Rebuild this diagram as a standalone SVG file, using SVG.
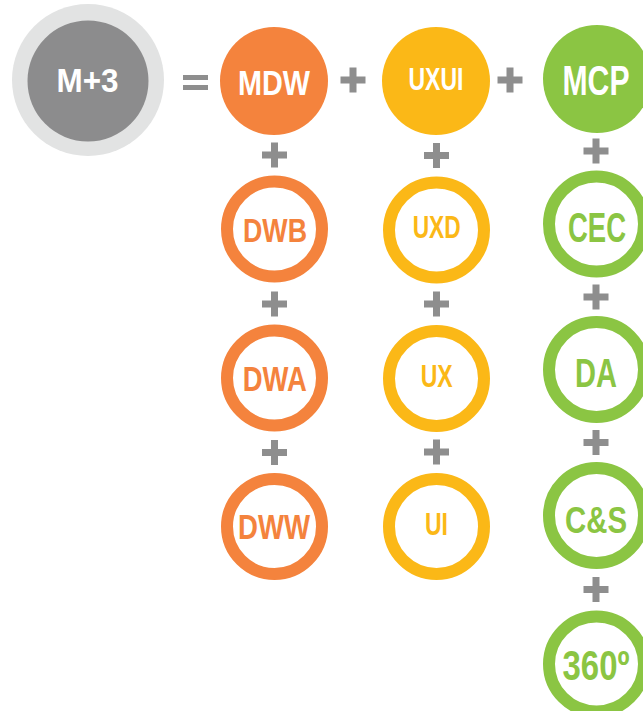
<svg xmlns="http://www.w3.org/2000/svg" xmlns:xlink="http://www.w3.org/1999/xlink" width="643" height="711" viewBox="0 0 643 711">
<style>
.t{font-family:"Liberation Sans",Arial,sans-serif;font-weight:bold;text-anchor:middle}
.w{fill:#ffffff}
.o{fill:#F4833D}
.y{fill:#FBB817}
.g{fill:#8BC543}
.ro{fill:none;stroke:#F4833D;stroke-width:12}
.ry{fill:none;stroke:#FBB817;stroke-width:12}
.rg{fill:none;stroke:#8BC543;stroke-width:12}
.op{stroke:#8E8E8E;stroke-width:7;fill:none}
</style>
<defs>
<path id="plus" d="M-12.5 0H12.5M0 -12.5V12.5" class="op"/>
</defs>
<rect width="643" height="711" fill="#ffffff"/>
<g id="connectors">
<rect x="183" y="75" width="25" height="5" fill="#8E8E8E"/>
<rect x="183" y="85" width="25" height="5" fill="#8E8E8E"/>
<use xlink:href="#plus" x="353" y="80"/>
<use xlink:href="#plus" x="510" y="80"/>
<use xlink:href="#plus" x="274.5" y="155"/>
<use xlink:href="#plus" x="274.5" y="304"/>
<use xlink:href="#plus" x="274.5" y="452.5"/>
<use xlink:href="#plus" x="436.5" y="155.5"/>
<use xlink:href="#plus" x="436.5" y="304"/>
<use xlink:href="#plus" x="436.5" y="452"/>
<use xlink:href="#plus" x="596" y="151"/>
<use xlink:href="#plus" x="596" y="297"/>
<use xlink:href="#plus" x="596" y="442.5"/>
<use xlink:href="#plus" x="596" y="589.5"/>
</g>
<g id="m3">
<circle cx="88" cy="80" r="76" fill="#E2E3E3"/>
<circle cx="88" cy="81" r="60.5" fill="#8C8C8D"/>
<text class="t w" x="87.5" y="91.7" font-size="33" textLength="62" lengthAdjust="spacingAndGlyphs">M+3</text>
</g>
<g id="mdw">
<circle cx="274" cy="81" r="54" fill="#F4833D"/>
<text class="t w" x="274" y="95" font-size="35" textLength="72" lengthAdjust="spacingAndGlyphs">MDW</text>
</g>
<g id="uxui">
<circle cx="436" cy="81" r="54" fill="#FBB817"/>
<text class="t w" x="436" y="90" font-size="31" textLength="55" lengthAdjust="spacingAndGlyphs">UXUI</text>
</g>
<g id="mcp">
<circle cx="597" cy="79" r="54" fill="#8BC543"/>
<text class="t w" x="596" y="95" font-size="42" textLength="67" lengthAdjust="spacingAndGlyphs">MCP</text>
</g>
<g id="dwb">
<circle cx="274.5" cy="229" r="47.5" class="ro"/>
<text class="t o" x="275" y="242" font-size="34" textLength="64" lengthAdjust="spacingAndGlyphs">DWB</text>
</g>
<g id="dwa">
<circle cx="274.5" cy="378" r="47.5" class="ro"/>
<text class="t o" x="274.7" y="390.7" font-size="35" textLength="64" lengthAdjust="spacingAndGlyphs">DWA</text>
</g>
<g id="dww">
<circle cx="274.5" cy="526.5" r="47.5" class="ro"/>
<text class="t o" x="274" y="539" font-size="35" textLength="72" lengthAdjust="spacingAndGlyphs">DWW</text>
</g>
<g id="uxd">
<circle cx="436.5" cy="230" r="47.5" class="ry"/>
<text class="t y" x="436.7" y="238" font-size="31" textLength="48" lengthAdjust="spacingAndGlyphs">UXD</text>
</g>
<g id="ux">
<circle cx="436.5" cy="378.5" r="47.5" class="ry"/>
<text class="t y" x="436.7" y="386.5" font-size="32" textLength="32" lengthAdjust="spacingAndGlyphs">UX</text>
</g>
<g id="ui">
<circle cx="436.5" cy="526.5" r="47.5" class="ry"/>
<text class="t y" x="436.5" y="535" font-size="32" textLength="23" lengthAdjust="spacingAndGlyphs">UI</text>
</g>
<g id="cec">
<circle cx="596.5" cy="224" r="47.5" class="rg"/>
<text class="t g" x="597" y="241.7" font-size="42" textLength="58" lengthAdjust="spacingAndGlyphs">CEC</text>
</g>
<g id="da">
<circle cx="596.5" cy="369.5" r="47.5" class="rg"/>
<text class="t g" x="596" y="386.7" font-size="40" textLength="42" lengthAdjust="spacingAndGlyphs">DA</text>
</g>
<g id="cs">
<circle cx="596.5" cy="515.5" r="47.5" class="rg"/>
<text class="t g" x="596" y="533" font-size="37" textLength="62" lengthAdjust="spacingAndGlyphs">C&amp;S</text>
</g>
<g id="n360">
<circle cx="596.5" cy="664" r="47.5" class="rg"/>
<text class="t g" x="596" y="680" font-size="42" textLength="67" lengthAdjust="spacingAndGlyphs">360º</text>
</g>
</svg>
